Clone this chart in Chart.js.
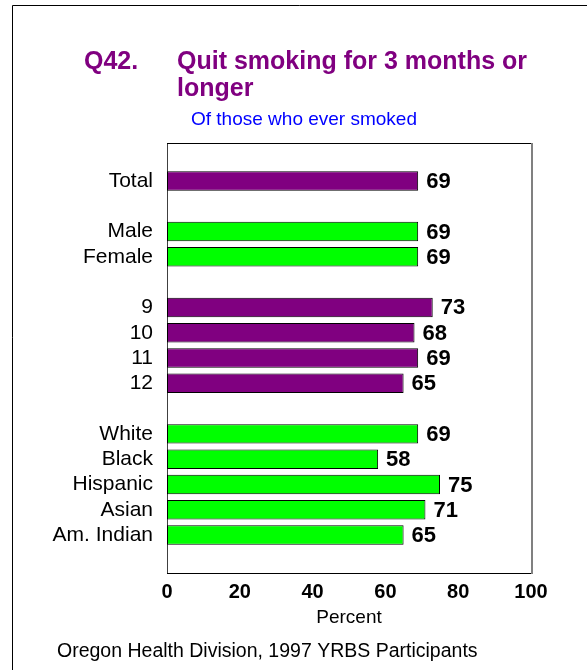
<!DOCTYPE html>
<html>
<head>
<meta charset="utf-8">
<script src="https://cdn.jsdelivr.net/npm/chart.js@4/dist/chart.umd.min.js"></script>
<style>
  body { margin: 0; background: #fff; }
  canvas { display: block; }
</style>
</head>
<body>
<canvas id="chart" width="587" height="670"></canvas>
<script>
// rows of the chart, blanks are the gaps between groups
const categories = ['', 'Total', '', 'Male', 'Female', '', '9', '10', '11', '12', '', 'White', 'Black', 'Hispanic', 'Asian', 'Am. Indian', ''];
const percents = [null, 69, null, 69, 69, null, 73, 68, 69, 65, null, 69, 58, 75, 71, 65, null];
const groups = ['', 'total', '', 'sex', 'sex', '', 'grade', 'grade', 'grade', 'grade', '', 'race', 'race', 'race', 'race', 'race', ''];
const xTicks = [0, 20, 40, 60, 80, 100];

const PURPLE = '#800080';
const GREEN = '#00ff00';
const groupColor = {total: PURPLE, grade: PURPLE, sex: GREEN, race: GREEN, '': GREEN};

const FONT = 'Arial, "Liberation Sans", sans-serif';

// titles, footer, page frame, box round plot and value labels
const decor = {
  id: 'decor',
  beforeDraw(chart) {
    const ctx = chart.ctx;
    ctx.save();
    ctx.fillStyle = '#fff';
    ctx.fillRect(0, 0, chart.width, chart.height);
    ctx.strokeStyle = '#000';
    ctx.lineWidth = 1;
    ctx.beginPath();
    ctx.moveTo(12.5, 670);
    ctx.lineTo(12.5, 5.5);
    ctx.lineTo(587, 5.5);
    ctx.stroke();

    ctx.fillStyle = PURPLE;
    ctx.font = 'bold 25px ' + FONT;
    ctx.textBaseline = 'alphabetic';
    ctx.textAlign = 'left';
    ctx.fillText('Q42.', 84, 69);
    ctx.fillText('Quit smoking for 3 months or', 177, 69);
    ctx.fillText('longer', 177, 96);

    ctx.fillStyle = '#0000ff';
    ctx.font = '19px ' + FONT;
    ctx.fillText('Of those who ever smoked', 191, 125);

    ctx.fillStyle = '#000';
    ctx.font = '19.5px ' + FONT;
    ctx.fillText('Oregon Health Division, 1997 YRBS Participants', 57, 657);
    ctx.restore();
  },
  afterDatasetsDraw(chart) {
    const ctx = chart.ctx;
    const a = chart.chartArea;
    ctx.save();
    ctx.lineWidth = 1;
    ctx.strokeStyle = '#000';
    ctx.beginPath();
    ctx.moveTo(a.left, Math.round(a.top) + 0.5);
    ctx.lineTo(a.right, Math.round(a.top) + 0.5);
    ctx.stroke();
    ctx.strokeStyle = '#808080';
    ctx.lineWidth = 2;
    ctx.beginPath();
    ctx.moveTo(Math.round(a.right) + 1, a.top);
    ctx.lineTo(Math.round(a.right) + 1, a.bottom + 1);
    ctx.stroke();

    ctx.fillStyle = '#000';
    ctx.font = 'bold 22px ' + FONT;
    ctx.textBaseline = 'middle';
    ctx.textAlign = 'left';
    chart.getDatasetMeta(0).data.forEach((bar, i) => {
      if (percents[i] == null) return;
      ctx.fillText(String(percents[i]), bar.x + 8, bar.y + 1);
    });
    ctx.restore();
  }
};

new Chart(document.getElementById('chart'), {
  type: 'bar',
  data: {
    labels: categories,
    datasets: [{
      data: percents,
      backgroundColor: groups.map(g => groupColor[g]),
      borderColor: '#000',
      borderWidth: 1,
      borderSkipped: false,
      barPercentage: 0.77,
      categoryPercentage: 1
    }]
  },
  options: {
    indexAxis: 'y',
    responsive: false,
    animation: false,
    layout: { padding: { top: 143, right: 56, bottom: 41, left: 0 } },
    plugins: { legend: { display: false }, tooltip: { enabled: false } },
    scales: {
      y: {
        grid: { display: false, drawTicks: false },
        border: { display: true, color: '#404040', width: 1 },
        ticks: { color: '#000', font: { family: FONT, size: 21 }, padding: 14, autoSkip: false },
        afterFit(scale) { scale.width = 167; }
      },
      x: {
        min: 0,
        max: 100,
        afterBuildTicks(scale) { scale.ticks = xTicks.map(v => ({ value: v })); },
        grid: { display: false, drawTicks: false },
        border: { display: true, color: '#000', width: 1 },
        ticks: { color: '#000', font: { family: FONT, size: 20, weight: 'bold' }, padding: 7 },
        title: { display: true, text: 'Percent', color: '#000', font: { family: FONT, size: 19 }, padding: 0 },
        afterFit(scale) { scale.height = 56; }
      }
    }
  },
  plugins: [decor]
});
</script>
</body>
</html>
